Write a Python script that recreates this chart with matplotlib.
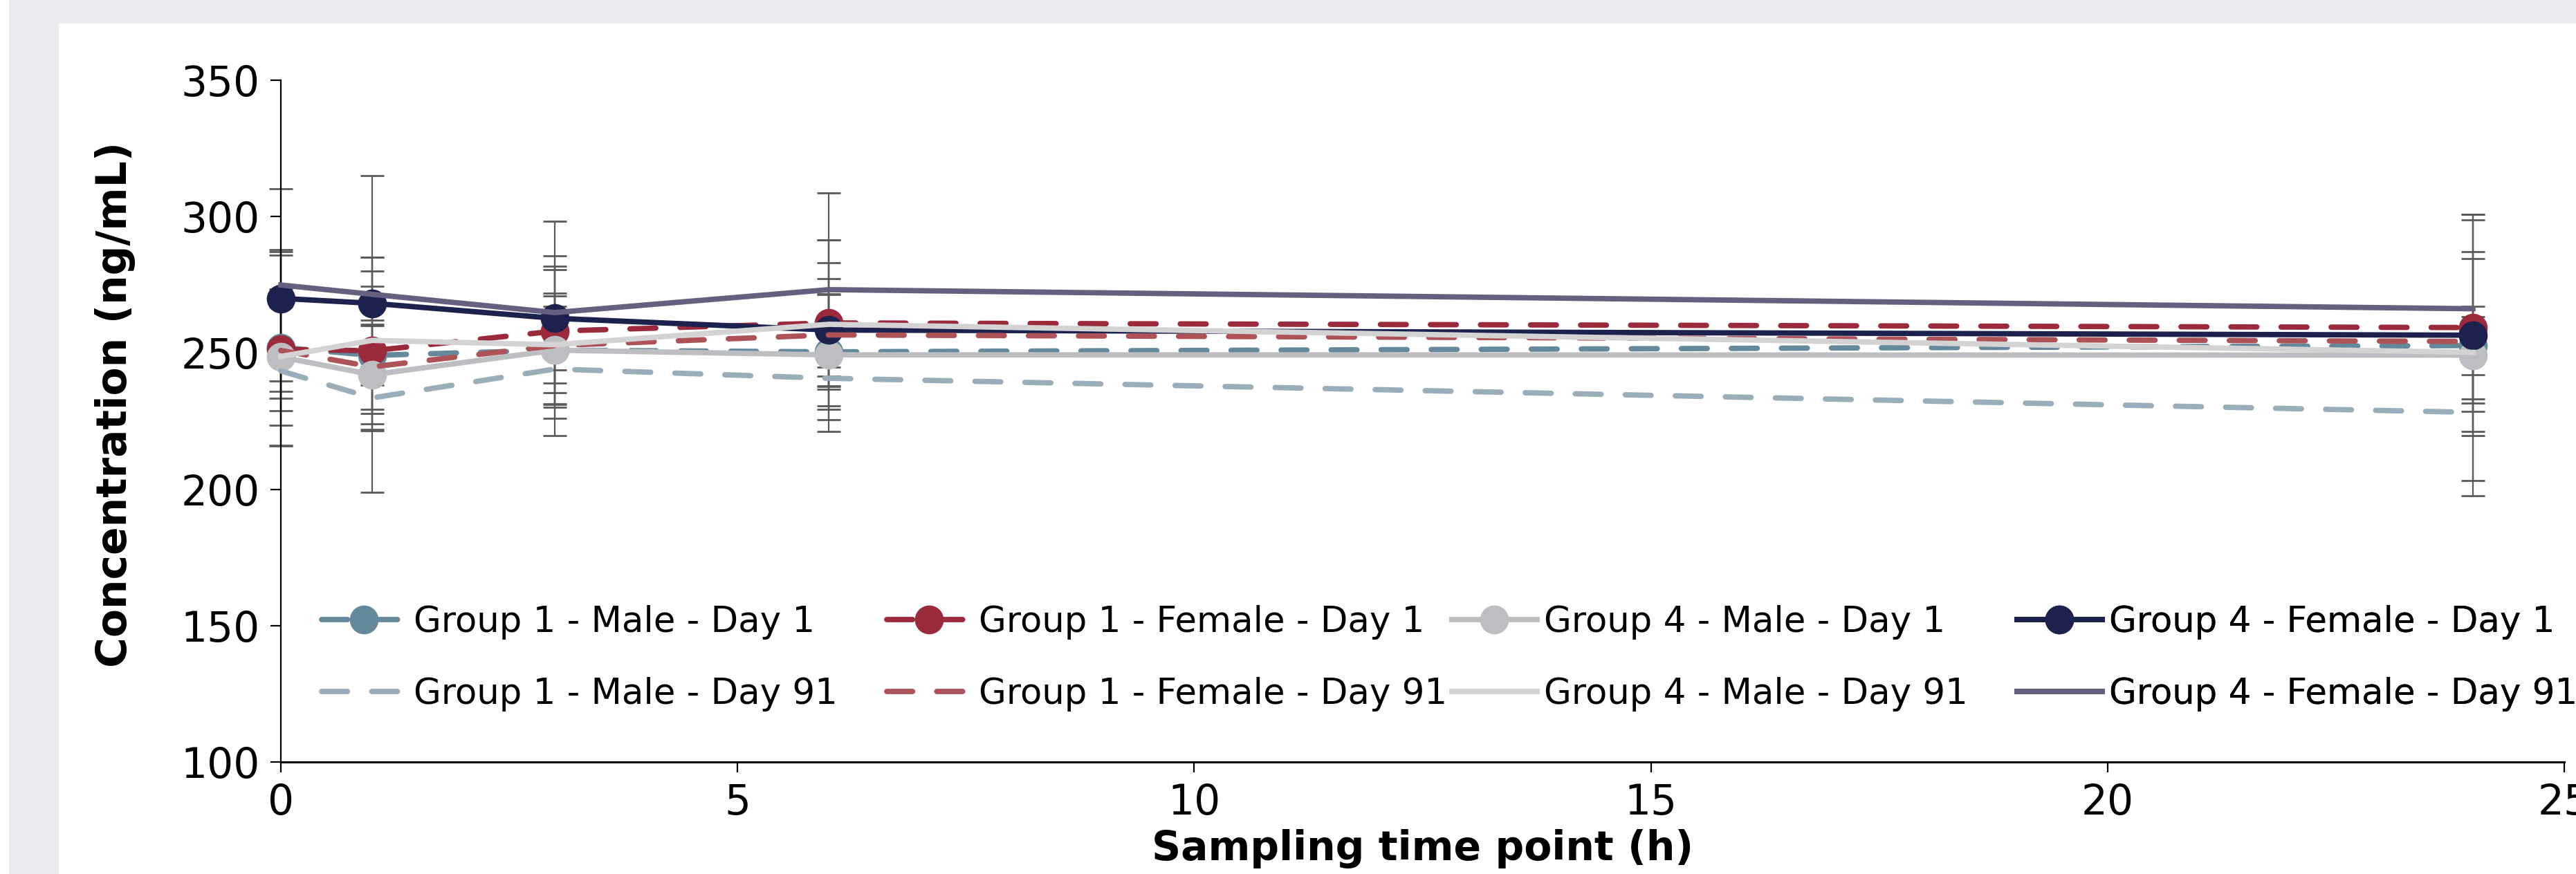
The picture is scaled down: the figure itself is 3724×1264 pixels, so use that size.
import matplotlib.pyplot as plt
from matplotlib.patches import Rectangle

# sampling times (h)
time_h = [0, 1, 3, 6, 24]

# mean concentrations (ng/mL)
g1_male_d1 = [252.0, 249.1, 251.0, 250.4, 252.7]
g1_female_d1 = [251.3, 250.8, 258.0, 261.0, 259.3]
g4_male_d1 = [248.5, 242.0, 251.0, 249.3, 249.2]
g4_female_d1 = [270.0, 268.2, 262.7, 258.4, 256.5]
g1_male_d91 = [243.4, 233.5, 244.1, 240.7, 228.2]
g1_female_d91 = [250.9, 244.9, 252.7, 256.6, 254.2]
g4_male_d91 = [248.7, 254.6, 253.0, 260.5, 250.2]
g4_female_d91 = [274.9, 271.5, 264.8, 273.2, 266.2]

# standard deviations (error bars)
sd_g1_male_d1 = [36.0, 11.0, 21.0, 21.0, 10.7]
sd_g1_female_d1 = [15.5, 29.3, 22.5, 30.5, 39.5]
sd_g4_male_d1 = [25.0, 43.0, 20.0, 28.0, 51.5]
sd_g4_female_d1 = [17.0, 6.3, 19.0, 33.0, 28.0]
sd_g1_male_d91 = [10.0, 11.6, 18.0, 4.0, 25.0]
sd_g1_female_d91 = [35.0, 15.5, 33.0, 15.0, 33.0]
sd_g4_male_d91 = [20.0, 30.5, 14.0, 22.5, 17.0]
sd_g4_female_d91 = [35.3, 43.6, 33.5, 35.4, 34.5]

labels = ['Group 1 - Male - Day 1', 'Group 1 - Female - Day 1',
          'Group 4 - Male - Day 1', 'Group 4 - Female - Day 1',
          'Group 1 - Male - Day 91', 'Group 1 - Female - Day 91',
          'Group 4 - Male - Day 91', 'Group 4 - Female - Day 91']

series = [
    (g1_male_d1, sd_g1_male_d1, '#64899a', True, True),
    (g1_female_d1, sd_g1_female_d1, '#9b2a3c', True, True),
    (g4_male_d1, sd_g4_male_d1, '#bdbec1', False, True),
    (g4_female_d1, sd_g4_female_d1, '#1c214e', False, True),
    (g1_male_d91, sd_g1_male_d91, '#9aaeba', True, False),
    (g1_female_d91, sd_g1_female_d91, '#ad5257', True, False),
    (g4_male_d91, sd_g4_male_d91, '#d3d3d3', False, False),
    (g4_female_d91, sd_g4_female_d91, '#64607e', False, False),
]

plt.rcParams['font.family'] = ['DejaVu Sans']

W, H = 3724, 1264
fig = plt.figure(figsize=(W / 200, H / 200), dpi=200, facecolor='#ebebf0')
fig.patches.append(Rectangle((0, 0), 13 / W, 1, transform=fig.transFigure,
                             facecolor='white', edgecolor='none', zorder=-5))
fig.patches.append(Rectangle((85 / W, 0), 1, 1 - 34 / H, transform=fig.transFigure,
                             facecolor='white', edgecolor='none', zorder=-5))

left, right, bottom, top = 406 / W, 3707 / W, 1 - 1102 / H, 1 - 116 / H
ax = fig.add_axes([left, bottom, right - left, top - bottom])
ax.set_facecolor('none')

# error bars underneath the lines
for vals, sd, color, dashed, marker in series:
    ax.errorbar(time_h, vals, yerr=sd, fmt='none', ecolor='#5a5a5a',
                elinewidth=0.8, capsize=6, capthick=1.0, zorder=1, clip_on=False)

handles = []
for (vals, sd, color, dashed, marker), lab in zip(series, labels):
    kw = dict(color=color, lw=2.8, clip_on=False, zorder=3, label=lab)
    if marker:
        kw.update(marker='o', ms=14, mec=color)
    line, = ax.plot(time_h, vals, **kw)
    if dashed:
        line.set_dashes((4.8, 4.5))
        line.set_dash_capstyle('round')
    handles.append(line)

ax.set_xlim(0, 25)
ax.set_ylim(100, 350)
ax.set_xticks(range(0, 26, 5))
ax.set_yticks(range(100, 351, 50))
ax.tick_params(labelsize=21.5, length=5.4, width=0.8, pad=5.4, color='black')
for s in ['top', 'right']:
    ax.spines[s].set_visible(False)
ax.spines['left'].set_linewidth(0.8)
ax.spines['bottom'].set_linewidth(1.1)

ax.set_xlabel('Sampling time point (h)', fontsize=21, fontweight='bold', labelpad=3)
ax.set_ylabel('Concentration (ng/mL)', fontsize=21.5, fontweight='bold')
ax.yaxis.set_label_coords(-0.0636, 0.524)

# one legend per column so the columns are evenly spaced
col_x = [0.0179, 0.2654, 0.5129, 0.7604]
for i, fx in enumerate(col_x):
    leg = ax.legend([handles[i], handles[i + 4]], [labels[i], labels[i + 4]],
                    loc='center left', bbox_to_anchor=(fx, 0.1526), frameon=False,
                    fontsize=18.5, handlelength=2.39, handletextpad=0.2,
                    borderpad=0, borderaxespad=0, labelspacing=1.05)
    ax.add_artist(leg)

fig.savefig('out.png', dpi=200, facecolor=fig.get_facecolor())
